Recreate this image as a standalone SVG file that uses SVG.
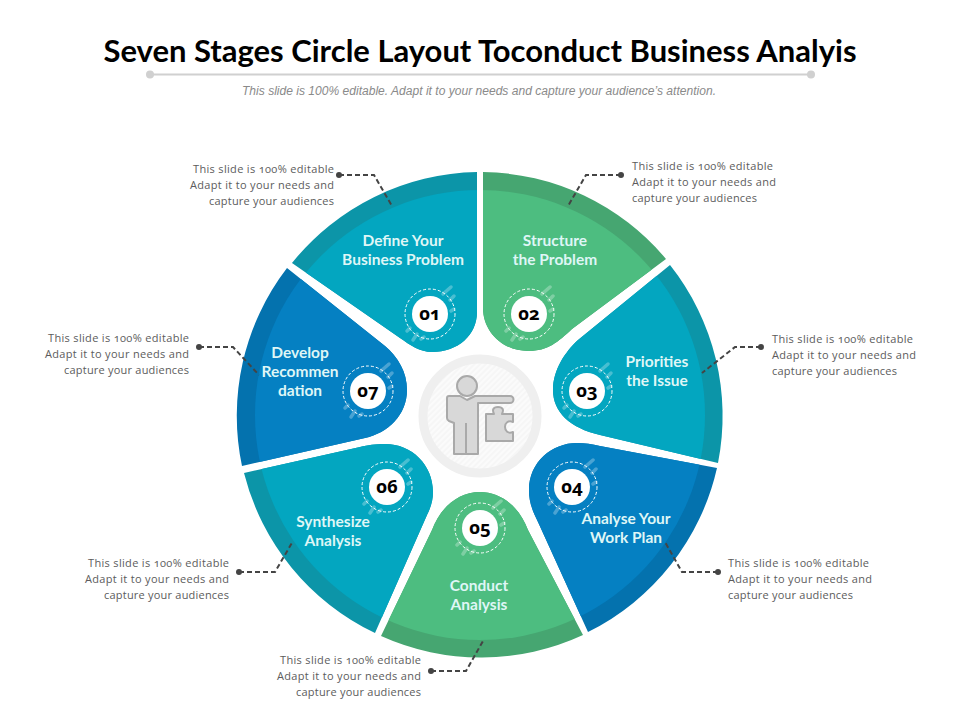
<svg xmlns="http://www.w3.org/2000/svg" xmlns:xlink="http://www.w3.org/1999/xlink" width="960" height="720" viewBox="0 0 960 720">
<style>
.lbl{font-family:Lato,"Open Sans",sans-serif;font-weight:700;font-size:15.500px;fill:#dff6f6;text-anchor:middle}
.num{font-family:"Open Sans",Lato,sans-serif;font-weight:700;font-size:18.500px;fill:#000;text-anchor:middle;font-variant-numeric:oldstyle-nums}
.body{font-family:"Open Sans",Lato,sans-serif;font-size:11px;fill:#5c5c5c;font-variant-numeric:oldstyle-nums}
.end{text-anchor:end}
.teal{fill:#0c95a8}.teal2{fill:#03a6c0}
.green{fill:#46a671}.green2{fill:#4dbd80}
.blue{fill:#0472ae}.blue2{fill:#0580c2}
.conn{fill:none;stroke:#444;stroke-width:2;stroke-dasharray:5 3}
.dot{fill:#444}
.fig{fill:#d8d8d8;stroke:#a9a9a9;stroke-width:2;stroke-linejoin:round}
</style>
<defs>
<clipPath id="inner"><circle cx="480" cy="415" r="225"/></clipPath>
<pattern id="hatch" width="4" height="4" patternUnits="userSpaceOnUse" patternTransform="rotate(-45)"><rect width="4" height="4" fill="#fbfbfb"/><line x1="0" y1="1" x2="4" y2="1" stroke="#f1f1f1" stroke-width="1"/></pattern>
<g id="badge">
<g stroke="#fff" stroke-opacity=".28" stroke-width="3.500" stroke-linecap="round" fill="none">
<path d="M13,-20 L21,-27M20,-14 L24,-18M-13,20 L-17,26M-20,14 L-23,17M-6,23 L-9,25M21,-3 L24,-5"/>
</g>
<circle r="18" fill="#fff"/>
<circle r="25" fill="none" stroke="#fff" stroke-width="1" stroke-dasharray="3 2"/>
</g>
</defs>
<rect width="960" height="720" fill="#fff"/>

<g id="header">
<text x="480" y="62" font-family="Lato,sans-serif" font-weight="700" font-size="31" fill="#000" text-anchor="middle" textLength="753" lengthAdjust="spacingAndGlyphs">Seven Stages Circle Layout Toconduct Business Analyis</text>
<line x1="150" y1="74.500" x2="811" y2="74.500" stroke="#d0d0d0" stroke-width="2"/>
<circle cx="150" cy="74.500" r="4" fill="#d0d0d0"/>
<circle cx="811" cy="74.500" r="4" fill="#d0d0d0"/>
<text x="479" y="94.500" font-family="'Liberation Sans',sans-serif" font-style="italic" font-size="12" fill="#8a8a8a" text-anchor="middle" textLength="474" lengthAdjust="spacingAndGlyphs">This slide is 100% editable. Adapt it to your needs and capture your audience’s attention.</text>
</g>

<g id="center">
<circle cx="480" cy="416" r="57" fill="url(#hatch)" stroke="#efefef" stroke-width="9"/>
<circle class="fig" cx="467" cy="386" r="10"/>
<path class="fig" d="M449,396 L460,396 L467,400 L475,396 L510,396 A3.500,3.500 0 0 1 510,403 L478,403 L478,454 L454,454 L454,423 L449,421 Q447,420 447,418 L447,398 Q447,396 449,396 Z"/>
<path class="fig" fill="none" d="M466,423 V454"/>
<path class="fig" d="M486,414 H494 C492,410 493,407 498,407 C503,407 504,410 502,414 H513 V422 C508,420 505,423 505,427 C505,431 508,434 513,432 V441 H486 Z"/>
</g>

<g id="node-01">
<path class="teal" d="M292,263 A243,243 0 0 1 477,172 L477,312 C477,335 458,352 432,352 C420,352 410,345 400,338 Z"/>
<path class="teal2" clip-path="url(#inner)" d="M292,263 A243,243 0 0 1 477,172 L477,312 C477,335 458,352 432,352 C420,352 410,345 400,338 Z"/>
<use xlink:href="#badge" href="#badge" x="430" y="314"/>
<text class="lbl" x="403" y="246">Define Your</text><text class="lbl" x="403" y="265">Business Problem</text>
<text class="num" x="430" y="320">01</text>
<text class="body end" x="334" y="173" textLength="141">This slide is 100% editable</text>
<text class="body end" x="334" y="189" textLength="144">Adapt it to your needs and</text>
<text class="body end" x="334" y="205" textLength="125">capture your audiences</text>
</g>

<g id="node-02">
<path class="green" d="M483,172 A243,243 0 0 1 666,259 L572,329 C558,342 548,351 528,351 C503,351 483,332 483,308 Z"/>
<path class="green2" clip-path="url(#inner)" d="M483,172 A243,243 0 0 1 666,259 L572,329 C558,342 548,351 528,351 C503,351 483,332 483,308 Z"/>
<use xlink:href="#badge" href="#badge" x="529" y="314"/>
<text class="lbl" x="555" y="246">Structure</text><text class="lbl" x="555" y="265">the Problem</text>
<text class="num" x="529" y="320">02</text>
<text class="body" x="632" y="170" textLength="141">This slide is 100% editable</text>
<text class="body" x="632" y="186" textLength="144">Adapt it to your needs and</text>
<text class="body" x="632" y="202" textLength="125">capture your audiences</text>
</g>

<g id="node-03">
<path class="teal" d="M670,265 A243,243 0 0 1 718,463 L600,435 C570,428 553,412 553,390 C553,370 565,352 578,340 Z"/>
<path class="teal2" clip-path="url(#inner)" d="M670,265 A243,243 0 0 1 718,463 L600,435 C570,428 553,412 553,390 C553,370 565,352 578,340 Z"/>
<use xlink:href="#badge" href="#badge" x="587" y="391"/>
<text class="lbl" x="657" y="367">Priorities</text><text class="lbl" x="657" y="386">the Issue</text>
<text class="num" x="587" y="397">03</text>
<text class="body" x="772" y="343" textLength="141">This slide is 100% editable</text>
<text class="body" x="772" y="359" textLength="144">Adapt it to your needs and</text>
<text class="body" x="772" y="375" textLength="125">capture your audiences</text>
</g>

<g id="node-04">
<path class="blue" d="M717,468 A243,243 0 0 1 588,632 L538,522 C531,508 529,500 529,490 C529,462 552,443 577,443 C585,443 592,444 600,446 Z"/>
<path class="blue2" clip-path="url(#inner)" d="M717,468 A243,243 0 0 1 588,632 L538,522 C531,508 529,500 529,490 C529,462 552,443 577,443 C585,443 592,444 600,446 Z"/>
<use xlink:href="#badge" href="#badge" x="572" y="487"/>
<text class="lbl" x="626" y="524">Analyse Your</text><text class="lbl" x="626" y="543">Work Plan</text>
<text class="num" x="572" y="493">04</text>
<text class="body" x="728" y="567" textLength="141">This slide is 100% editable</text>
<text class="body" x="728" y="583" textLength="144">Adapt it to your needs and</text>
<text class="body" x="728" y="599" textLength="125">capture your audiences</text>
</g>

<g id="node-05">
<path class="green" d="M381,636 L432,530 C440,508 458,492 480,492 C502,492 520,508 528,530 L583,635 A243,243 0 0 1 381,636 Z"/>
<path class="green2" clip-path="url(#inner)" d="M381,636 L432,530 C440,508 458,492 480,492 C502,492 520,508 528,530 L583,635 A243,243 0 0 1 381,636 Z"/>
<use xlink:href="#badge" href="#badge" x="480" y="528"/>
<text class="lbl" x="479" y="591">Conduct</text><text class="lbl" x="479" y="610">Analysis</text>
<text class="num" x="480" y="534">05</text>
<text class="body end" x="421" y="664" textLength="141">This slide is 100% editable</text>
<text class="body end" x="421" y="680" textLength="144">Adapt it to your needs and</text>
<text class="body end" x="421" y="696" textLength="125">capture your audiences</text>
</g>

<g id="node-06">
<path class="teal" d="M244,473 L360,447 C368,445 375,444 385,444 C412,444 433,465 433,492 C433,500 431,507 427,515 L375,633 A243,243 0 0 1 244,473 Z"/>
<path class="teal2" clip-path="url(#inner)" d="M244,473 L360,447 C368,445 375,444 385,444 C412,444 433,465 433,492 C433,500 431,507 427,515 L375,633 A243,243 0 0 1 244,473 Z"/>
<use xlink:href="#badge" href="#badge" x="387" y="487"/>
<text class="lbl" x="333" y="527">Synthesize</text><text class="lbl" x="333" y="546">Analysis</text>
<text class="num" x="387" y="493">06</text>
<text class="body end" x="229" y="567" textLength="141">This slide is 100% editable</text>
<text class="body end" x="229" y="583" textLength="144">Adapt it to your needs and</text>
<text class="body end" x="229" y="599" textLength="125">capture your audiences</text>
</g>

<g id="node-07">
<path class="blue" d="M287,268 L385,346 C398,357 407,372 407,390 C407,415 388,433 365,438 L242,466 A243,243 0 0 1 287,268 Z"/>
<path class="blue2" clip-path="url(#inner)" d="M287,268 L385,346 C398,357 407,372 407,390 C407,415 388,433 365,438 L242,466 A243,243 0 0 1 287,268 Z"/>
<use xlink:href="#badge" href="#badge" x="368" y="391"/>
<text class="lbl" x="300" y="358">Develop</text><text class="lbl" x="300" y="377">Recommen</text><text class="lbl" x="300" y="396">dation</text>
<text class="num" x="368" y="397">07</text>
<text class="body end" x="189" y="342" textLength="141">This slide is 100% editable</text>
<text class="body end" x="189" y="358" textLength="144">Adapt it to your needs and</text>
<text class="body end" x="189" y="374" textLength="125">capture your audiences</text>
</g>

<g id="connectors">
<path class="conn" d="M339,175 H374 L392,206"/><circle class="dot" cx="339" cy="175" r="3"/>
<path class="conn" d="M621,175 H586 L568,206"/><circle class="dot" cx="621" cy="175" r="3"/>
<path class="conn" d="M761,347 H735 L702,373"/><circle class="dot" cx="761" cy="347" r="3"/>
<path class="conn" d="M718,572 H682 L665,542"/><circle class="dot" cx="718" cy="572" r="3"/>
<path class="conn" d="M431,671 H466 L483,641"/><circle class="dot" cx="431" cy="671" r="3"/>
<path class="conn" d="M239,572 H275 L293,541"/><circle class="dot" cx="239" cy="572" r="3"/>
<path class="conn" d="M199,347 H233 L259,375"/><circle class="dot" cx="199" cy="347" r="3"/>
</g>
</svg>
